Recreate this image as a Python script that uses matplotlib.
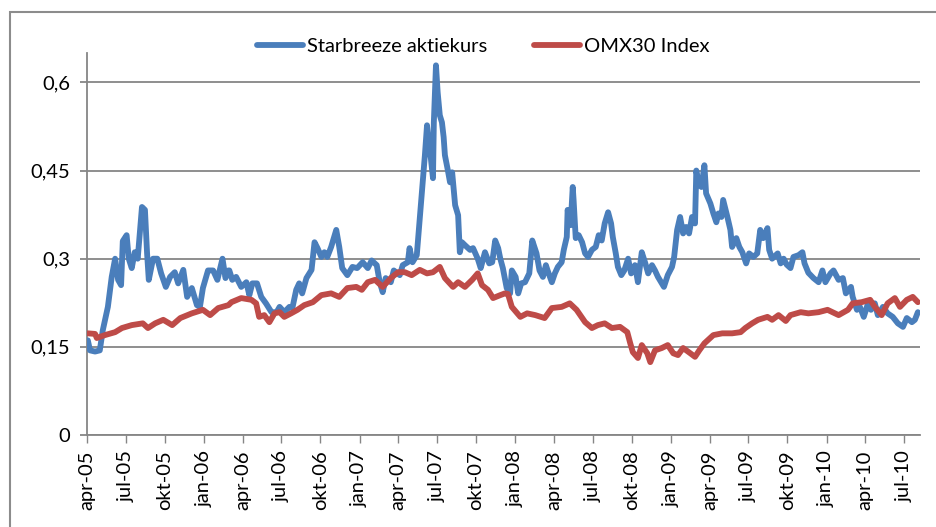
import numpy as np
import matplotlib
matplotlib.use('Agg')
import matplotlib.pyplot as plt
import matplotlib.dates as mdates
from matplotlib.patches import Rectangle

plt.rcParams['font.family'] = ['Lato', 'DejaVu Sans']

# ---------------- data ----------------
starbreeze_dates = [
    '2005-04-03', '2005-04-08', '2005-04-20', '2005-05-01', '2005-05-08', '2005-05-20', '2005-05-29',
    '2005-06-06', '2005-06-13', '2005-06-20', '2005-06-24', '2005-07-03', '2005-07-08', '2005-07-15',
    '2005-07-22', '2005-07-29', '2005-08-08', '2005-08-15', '2005-08-20', '2005-08-24', '2005-09-03',
    '2005-09-13', '2005-09-22', '2005-10-03', '2005-10-13', '2005-10-24', '2005-11-01', '2005-11-13',
    '2005-11-22', '2005-12-03', '2005-12-15', '2005-12-22', '2005-12-29',
    '2006-01-10', '2006-01-22', '2006-02-01', '2006-02-13', '2006-02-20', '2006-02-27', '2006-03-01',
    '2006-03-08', '2006-03-17', '2006-03-29', '2006-04-10', '2006-04-17', '2006-04-24', '2006-05-05',
    '2006-05-15', '2006-05-26', '2006-06-08', '2006-06-20', '2006-06-27', '2006-07-08', '2006-07-20',
    '2006-07-27', '2006-08-05', '2006-08-12', '2006-08-19', '2006-08-29', '2006-09-10', '2006-09-17',
    '2006-09-24', '2006-10-03', '2006-10-10', '2006-10-17', '2006-10-26', '2006-11-07', '2006-11-14',
    '2006-11-21', '2006-12-03', '2006-12-15', '2006-12-26',
    '2007-01-08', '2007-01-20', '2007-01-29', '2007-02-10', '2007-02-17', '2007-02-24', '2007-03-03',
    '2007-03-15', '2007-03-22', '2007-04-05', '2007-04-12', '2007-04-24', '2007-04-28', '2007-05-05',
    '2007-05-15', '2007-05-22', '2007-05-29', '2007-06-03', '2007-06-08', '2007-06-13', '2007-06-17',
    '2007-06-22', '2007-06-24', '2007-06-29', '2007-07-03', '2007-07-08', '2007-07-13', '2007-07-17',
    '2007-07-20', '2007-07-27', '2007-08-01', '2007-08-06', '2007-08-13', '2007-08-20', '2007-08-24',
    '2007-08-29', '2007-09-05', '2007-09-17', '2007-09-24', '2007-10-05', '2007-10-12', '2007-10-22',
    '2007-11-01', '2007-11-08', '2007-11-15', '2007-11-22', '2007-11-27', '2007-12-03', '2007-12-12',
    '2007-12-20', '2007-12-24',
    '2008-01-02', '2008-01-08', '2008-01-15', '2008-01-24', '2008-02-03', '2008-02-10', '2008-02-20',
    '2008-02-27', '2008-03-06', '2008-03-13', '2008-03-17', '2008-03-27', '2008-04-03', '2008-04-10',
    '2008-04-19', '2008-04-24', '2008-05-01', '2008-05-03', '2008-05-10', '2008-05-15', '2008-05-17',
    '2008-05-22', '2008-05-29', '2008-06-06', '2008-06-13', '2008-06-20', '2008-06-29', '2008-07-08',
    '2008-07-15', '2008-07-22', '2008-07-29', '2008-08-06', '2008-08-13', '2008-08-17', '2008-08-24',
    '2008-08-29', '2008-09-06', '2008-09-13', '2008-09-22', '2008-09-29', '2008-10-08', '2008-10-15',
    '2008-10-24', '2008-11-01', '2008-11-08', '2008-11-17', '2008-11-24', '2008-12-01', '2008-12-10',
    '2008-12-15', '2008-12-24',
    '2009-01-03', '2009-01-08', '2009-01-15', '2009-01-22', '2009-01-29', '2009-02-05', '2009-02-12',
    '2009-02-19', '2009-02-26', '2009-03-01', '2009-03-06', '2009-03-13', '2009-03-20', '2009-03-24',
    '2009-04-03', '2009-04-10', '2009-04-17', '2009-04-22', '2009-04-29', '2009-05-03', '2009-05-13',
    '2009-05-20', '2009-05-24', '2009-06-03', '2009-06-10', '2009-06-17', '2009-06-26', '2009-07-03',
    '2009-07-13', '2009-07-22', '2009-07-29', '2009-08-05', '2009-08-15', '2009-08-19', '2009-08-26',
    '2009-09-08', '2009-09-15', '2009-09-22', '2009-09-29', '2009-10-08', '2009-10-15', '2009-10-27',
    '2009-11-05', '2009-11-10', '2009-11-19', '2009-12-01', '2009-12-13', '2009-12-22', '2009-12-29',
    '2010-01-10', '2010-01-17', '2010-01-29', '2010-02-08', '2010-02-15', '2010-02-27', '2010-03-03',
    '2010-03-13', '2010-03-20', '2010-03-29', '2010-04-08', '2010-04-15', '2010-04-24', '2010-05-01',
    '2010-05-13', '2010-05-24', '2010-06-05', '2010-06-17', '2010-06-29', '2010-07-08', '2010-07-20',
    '2010-07-27', '2010-08-03',
]
starbreeze_values = [
    0.161, 0.144, 0.142, 0.144, 0.178, 0.218, 0.269,
    0.300, 0.264, 0.255, 0.330, 0.340, 0.300, 0.284,
    0.311, 0.300, 0.388, 0.383, 0.309, 0.264, 0.300,
    0.300, 0.275, 0.252, 0.269, 0.277, 0.258, 0.281,
    0.235, 0.250, 0.221, 0.218, 0.250,
    0.280, 0.280, 0.264, 0.300, 0.267, 0.280, 0.280,
    0.264, 0.269, 0.252, 0.260, 0.238, 0.258, 0.258,
    0.235, 0.224, 0.209, 0.209, 0.218, 0.209, 0.218,
    0.216, 0.247, 0.258, 0.241, 0.267, 0.281, 0.328,
    0.318, 0.303, 0.311, 0.303, 0.320, 0.349, 0.320,
    0.284, 0.272, 0.286, 0.284,
    0.294, 0.284, 0.297, 0.289, 0.260, 0.243, 0.267,
    0.260, 0.280, 0.272, 0.289, 0.294, 0.318, 0.294,
    0.306, 0.369, 0.430, 0.476, 0.527, 0.493, 0.471,
    0.437, 0.532, 0.629, 0.583, 0.544, 0.532, 0.507,
    0.476, 0.450, 0.430, 0.447, 0.391, 0.374, 0.311,
    0.328, 0.323, 0.315, 0.318, 0.300, 0.284, 0.311,
    0.292, 0.294, 0.331, 0.318, 0.300, 0.284, 0.250,
    0.241, 0.280,
    0.269, 0.241, 0.258, 0.260, 0.275, 0.331, 0.309,
    0.280, 0.269, 0.289, 0.280, 0.260, 0.275, 0.286,
    0.294, 0.315, 0.337, 0.383, 0.357, 0.422, 0.400,
    0.335, 0.340, 0.328, 0.309, 0.303, 0.315, 0.320,
    0.340, 0.331, 0.360, 0.379, 0.360, 0.337, 0.309,
    0.286, 0.272, 0.280, 0.300, 0.275, 0.289, 0.260,
    0.311, 0.293, 0.275, 0.289, 0.280, 0.269, 0.258,
    0.252, 0.272,
    0.286, 0.303, 0.349, 0.371, 0.343, 0.354, 0.343,
    0.371, 0.360, 0.450, 0.428, 0.422, 0.459, 0.411,
    0.394, 0.377, 0.362, 0.377, 0.371, 0.400, 0.371,
    0.349, 0.320, 0.335, 0.320, 0.311, 0.292, 0.309,
    0.303, 0.309, 0.349, 0.335, 0.352, 0.315, 0.300,
    0.309, 0.292, 0.300, 0.290, 0.284, 0.303, 0.306,
    0.311, 0.292, 0.276, 0.267, 0.260, 0.280, 0.260,
    0.275, 0.280, 0.264, 0.267, 0.241, 0.252, 0.235,
    0.213, 0.218, 0.201, 0.224, 0.213, 0.224, 0.204,
    0.218, 0.207, 0.201, 0.190, 0.184, 0.199, 0.192,
    0.196, 0.209,
]

omx_dates = [
    '2005-04-03', '2005-04-20', '2005-04-24', '2005-05-13', '2005-06-06', '2005-06-22', '2005-07-15',
    '2005-08-10', '2005-08-22', '2005-09-08', '2005-09-27', '2005-10-18', '2005-11-06', '2005-12-03',
    '2005-12-29', '2006-01-15', '2006-02-03', '2006-02-27', '2006-03-06', '2006-03-29', '2006-04-22',
    '2006-05-03', '2006-05-10', '2006-05-22', '2006-06-03', '2006-06-15', '2006-06-27', '2006-07-08',
    '2006-07-24', '2006-08-08', '2006-08-24', '2006-09-13', '2006-10-03', '2006-10-26', '2006-11-14',
    '2006-12-03', '2006-12-24', '2007-01-06', '2007-01-20', '2007-02-06', '2007-02-24', '2007-03-15',
    '2007-04-01', '2007-04-17', '2007-05-03', '2007-05-22', '2007-06-08', '2007-06-22', '2007-07-08',
    '2007-07-20', '2007-08-08', '2007-08-20', '2007-09-05', '2007-09-22', '2007-10-05', '2007-10-15',
    '2007-10-29', '2007-11-10', '2007-11-27', '2007-12-08', '2007-12-15', '2007-12-24', '2008-01-13',
    '2008-01-29', '2008-02-17', '2008-03-10', '2008-03-27', '2008-04-19', '2008-05-08', '2008-05-24',
    '2008-06-13', '2008-06-29', '2008-07-13', '2008-07-29', '2008-08-15', '2008-09-03', '2008-09-20',
    '2008-09-27', '2008-10-03', '2008-10-15', '2008-10-24', '2008-11-06', '2008-11-13', '2008-11-24',
    '2008-12-10', '2008-12-24', '2009-01-06', '2009-01-17', '2009-01-29', '2009-02-15', '2009-02-26',
    '2009-03-08', '2009-03-20', '2009-04-10', '2009-05-01', '2009-05-24', '2009-06-13', '2009-06-24',
    '2009-07-10', '2009-07-24', '2009-08-15', '2009-08-26', '2009-09-10', '2009-09-27', '2009-10-08',
    '2009-11-01', '2009-11-19', '2009-12-13', '2010-01-03', '2010-01-29', '2010-02-20', '2010-03-03',
    '2010-03-24', '2010-04-13', '2010-04-24', '2010-05-10', '2010-05-24', '2010-06-10', '2010-06-22',
    '2010-07-08', '2010-07-22', '2010-08-03',
]
omx_values = [
    0.173, 0.172, 0.165, 0.170, 0.175, 0.182, 0.187,
    0.190, 0.182, 0.190, 0.196, 0.187, 0.199, 0.207,
    0.213, 0.204, 0.216, 0.221, 0.226, 0.233, 0.230,
    0.224, 0.201, 0.204, 0.192, 0.207, 0.209, 0.201,
    0.207, 0.213, 0.221, 0.226, 0.238, 0.241, 0.235,
    0.250, 0.252, 0.247, 0.260, 0.264, 0.252, 0.267,
    0.277, 0.277, 0.272, 0.281, 0.275, 0.277, 0.286,
    0.267, 0.252, 0.260, 0.252, 0.264, 0.275, 0.255,
    0.247, 0.233, 0.238, 0.241, 0.240, 0.218, 0.201,
    0.207, 0.204, 0.199, 0.216, 0.218, 0.224, 0.213,
    0.192, 0.182, 0.187, 0.190, 0.182, 0.184, 0.175,
    0.156, 0.141, 0.131, 0.153, 0.139, 0.124, 0.144,
    0.148, 0.153, 0.139, 0.136, 0.148, 0.139, 0.133,
    0.144, 0.156, 0.170, 0.173, 0.173, 0.175, 0.182,
    0.190, 0.196, 0.201, 0.196, 0.204, 0.194, 0.204,
    0.209, 0.207, 0.209, 0.213, 0.204, 0.213, 0.224,
    0.226, 0.230, 0.218, 0.204, 0.224, 0.233, 0.218,
    0.230, 0.235, 0.226,
]

tick_dates = [
    '2005-04-01', '2005-07-01', '2005-10-01', '2006-01-01', '2006-04-01', '2006-07-01', '2006-10-01',
    '2007-01-01', '2007-04-01', '2007-07-01', '2007-10-01', '2008-01-01', '2008-04-01', '2008-07-01',
    '2008-10-01', '2009-01-01', '2009-04-01', '2009-07-01', '2009-10-01', '2010-01-01', '2010-04-01',
    '2010-07-01',
]
tick_labels = [
    'apr-05', 'jul-05', 'okt-05', 'jan-06', 'apr-06', 'jul-06', 'okt-06', 'jan-07', 'apr-07', 'jul-07',
    'okt-07', 'jan-08', 'apr-08', 'jul-08', 'okt-08', 'jan-09', 'apr-09', 'jul-09', 'okt-09', 'jan-10',
    'apr-10', 'jul-10',
]
y_ticks = [0, 0.15, 0.3, 0.45, 0.6]
y_labels = ['0', '0,15', '0,3', '0,45', '0,6']
series_names = ['Starbreeze aktiekurs', 'OMX30 Index']

# ---------------- plot ----------------
W, H = 937, 527
fig = plt.figure(figsize=(W / 100, H / 100), dpi=100)
fig.patch.set_facecolor('white')

# outer chart frame
fig.patches.append(Rectangle((10 / W, -0.1), 1.2, 1 - 12 / H + 0.1, transform=fig.transFigure,
                             fill=False, edgecolor='#8c8c8c', linewidth=1.5))

left, right, bottom, top = 87, 920, 435, 53
ax = fig.add_axes([left / W, 1 - bottom / H, (right - left) / W, (bottom - top) / H])

grid_col = '#868686'
sb_d = np.array(starbreeze_dates, dtype='datetime64[D]')
omx_d = np.array(omx_dates, dtype='datetime64[D]')
ax.plot(sb_d, starbreeze_values, color='#4a7ebb', lw=4.2, solid_joinstyle='round',
        solid_capstyle='round', label=series_names[0], zorder=3)
ax.plot(omx_d, omx_values, color='#be4b48', lw=4.2, solid_joinstyle='round',
        solid_capstyle='round', label=series_names[1], zorder=4)

ax.set_ylim(0, 0.65)
ax.set_xlim(np.datetime64('2005-04-01'), np.datetime64('2010-08-08'))
ax.set_yticks(y_ticks)
ax.set_yticklabels(y_labels, fontsize=14.5)
ax.set_xticks(np.array(tick_dates, dtype='datetime64[D]'))
ax.set_xticklabels(tick_labels, rotation=90, fontsize=14.5)

ax.yaxis.grid(True, color=grid_col, linewidth=1.3)
ax.set_axisbelow(True)
for s in ['top', 'right']:
    ax.spines[s].set_visible(False)
for s in ['left', 'bottom']:
    ax.spines[s].set_color(grid_col)
    ax.spines[s].set_linewidth(1.3)
ax.tick_params(axis='x', direction='out', length=6, width=1, color=grid_col, pad=5)
ax.tick_params(axis='y', direction='out', length=5, width=1.3, color=grid_col, pad=7)

fig.legend(loc='center', bbox_to_anchor=(483 / W, 1 - 46 / H), ncol=2, frameon=False,
           fontsize=14.5, handlelength=2.3, handletextpad=0.2, columnspacing=2.3)

fig.savefig('out.png', dpi=100)
